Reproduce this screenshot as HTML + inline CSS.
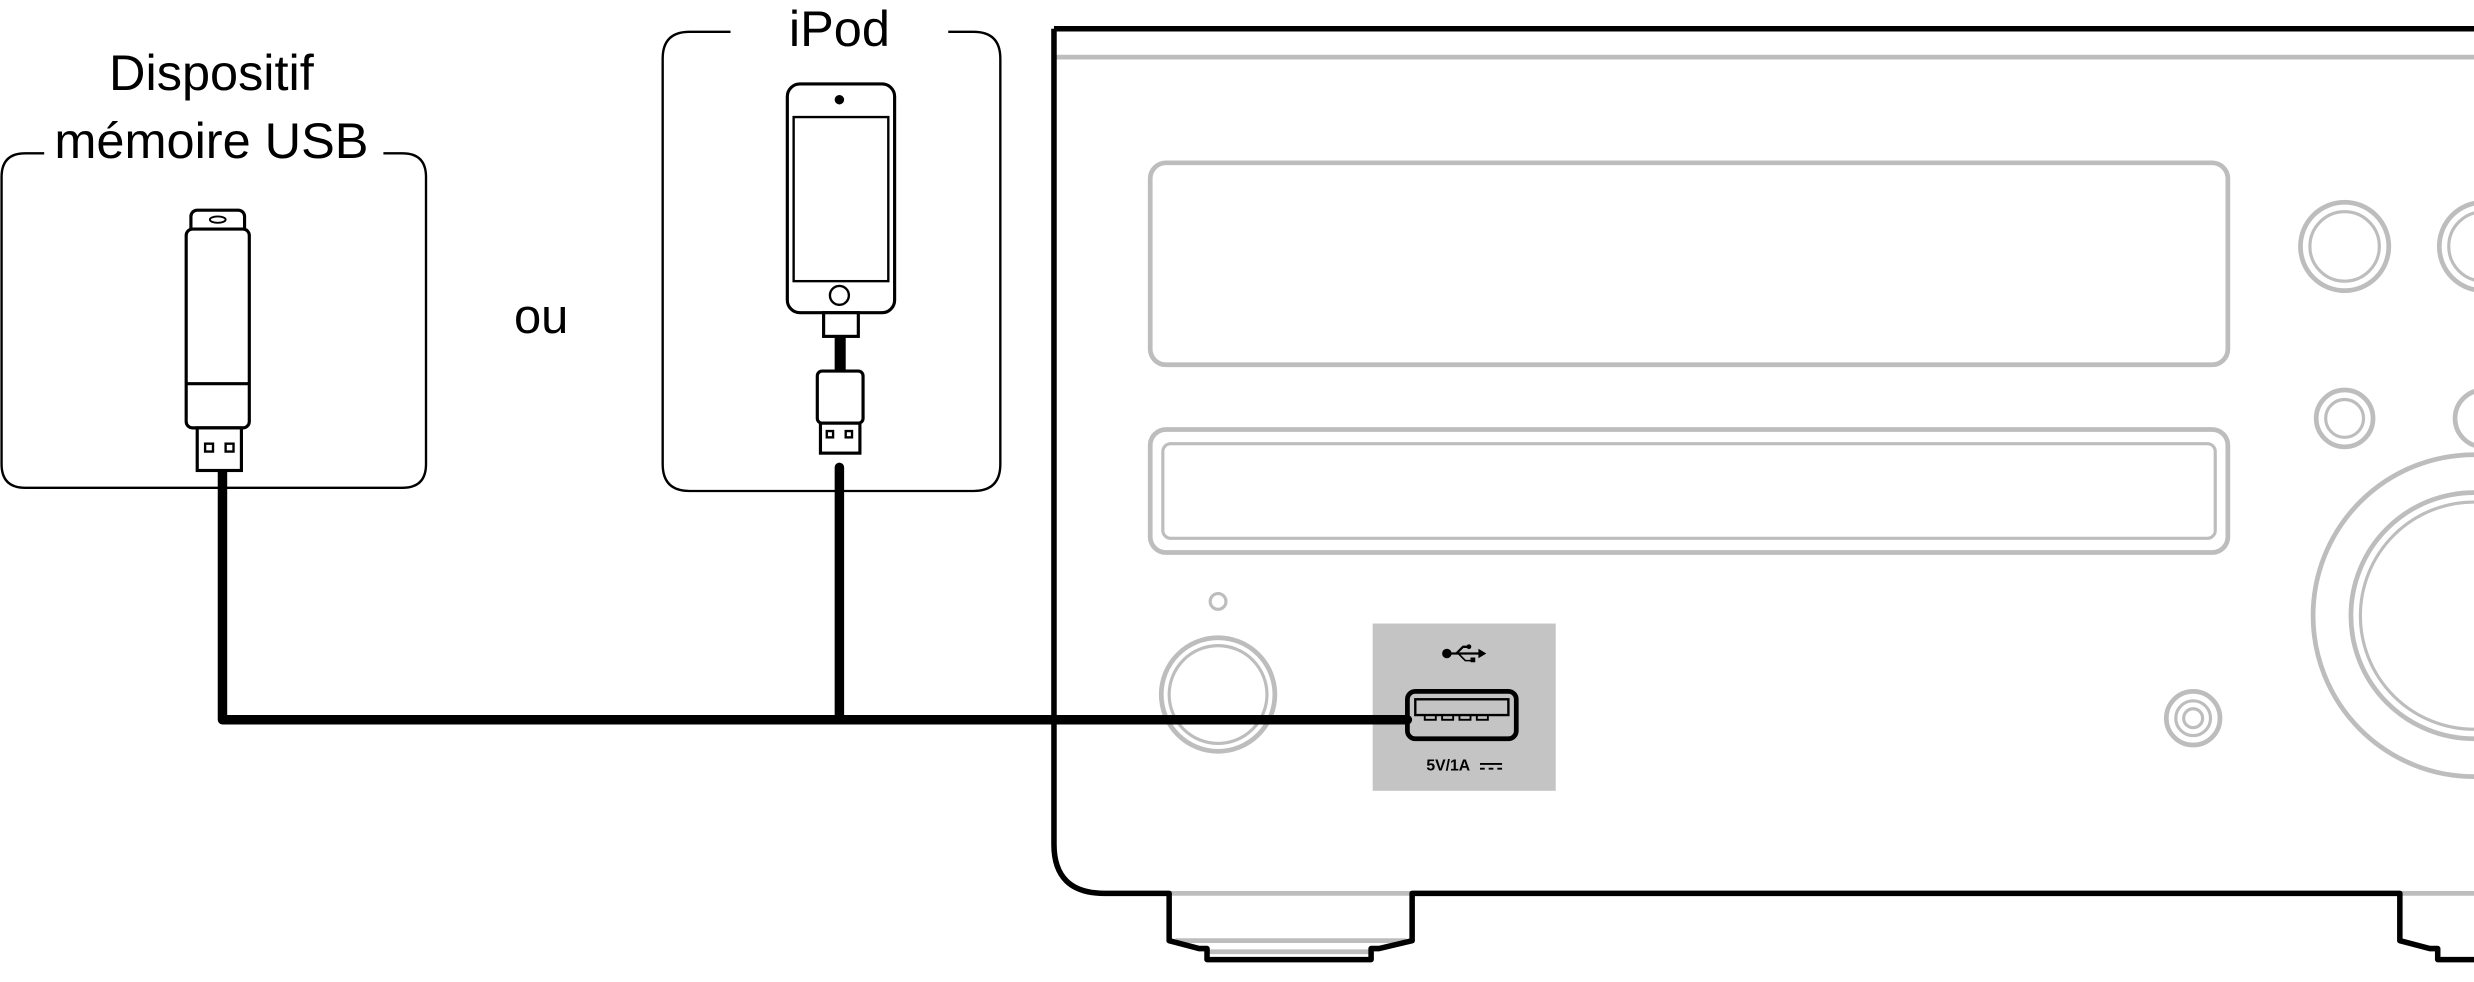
<!DOCTYPE html>
<html><head><meta charset="utf-8"><style>
html,body{margin:0;padding:0;background:#fff;width:2474px;height:982px;overflow:hidden}
svg{display:block}
text{font-family:"Liberation Sans",sans-serif}
</style></head><body>
<svg width="2474" height="982" viewBox="0 0 1568 622" xmlns="http://www.w3.org/2000/svg">
<g fill="none" stroke="#bdbdbd" stroke-width="3">
<line x1="668" y1="36" x2="1568" y2="36"/>
<rect x="729" y="103" width="683" height="128" rx="10"/>
<rect x="729" y="272" width="683" height="78" rx="10"/>
<rect x="737" y="281" width="667" height="60" rx="5" stroke-width="2"/>
<circle cx="772" cy="381" r="5" stroke-width="2"/>
<circle cx="772" cy="440" r="36"/>
<circle cx="772" cy="440" r="31" stroke-width="2"/>
<circle cx="1486" cy="156" r="28"/>
<circle cx="1486" cy="156" r="22" stroke-width="2"/>
<circle cx="1574" cy="156" r="28"/>
<circle cx="1574" cy="156" r="22" stroke-width="2"/>
<circle cx="1486" cy="265" r="18"/>
<circle cx="1486" cy="265" r="12" stroke-width="2"/>
<circle cx="1574" cy="265" r="18"/>
<circle cx="1390" cy="455" r="17"/>
<circle cx="1390" cy="455" r="11" stroke-width="2"/>
<circle cx="1390" cy="455" r="6" stroke-width="2"/>
<circle cx="1568" cy="390" r="102"/>
<circle cx="1568" cy="390" r="78"/>
<circle cx="1568" cy="390" r="72" stroke-width="2"/>
<line x1="741" y1="566" x2="895" y2="566"/>
<line x1="745" y1="596" x2="891" y2="596"/>
<line x1="765" y1="603" x2="870" y2="603"/>
<line x1="1521" y1="566" x2="1568" y2="566"/>
</g>
<path d="M668 18 H1568 M668 18 V535 Q668 566 700 566 H741 V596 L760 601 H765 V608 H869 V601 H874 L895 596 V566 H1521 V596 L1540 601 H1545 V608 H1568" fill="none" stroke="#000" stroke-width="3.5" stroke-linejoin="round"/>
<rect x="870" y="395" width="116" height="106" fill="#c4c4c4"/>
<g fill="#000">
<circle cx="917" cy="414" r="3"/>
<path d="M917 413.3 H940 V414.7 H917Z"/>
<path d="M937 411 L942 414 L937 417Z"/>
<path d="M922 414 L927 409 H931 V410.5 H927.5 L923.5 414.5Z"/>
<circle cx="931" cy="409.7" r="1.5"/>
<path d="M925 414 L929 418 H932 V416.5 H935 V419.5 H932 V419 H928.5 L924 414.5Z"/>
</g>
<rect x="892" y="438" width="69" height="30" rx="5" fill="none" stroke="#000" stroke-width="3"/>
<rect x="897" y="443" width="59" height="10" fill="none" stroke="#000" stroke-width="1.5"/>
<g fill="none" stroke="#000" stroke-width="1.2"><rect x="903" y="453" width="7" height="3"/><rect x="914" y="453" width="7" height="3"/><rect x="925" y="453" width="7" height="3"/><rect x="936" y="453" width="7" height="3"/></g>
<text x="904" y="488" font-size="10" font-weight="bold">5V/1A</text>
<g stroke="#000" stroke-width="1.2"><line x1="938" y1="484" x2="952" y2="484"/><line x1="938" y1="487" x2="941" y2="487"/><line x1="943.5" y1="487" x2="946.5" y2="487"/><line x1="949" y1="487" x2="952" y2="487"/></g>
<path d="M141 283 V456 H892" fill="none" stroke="#000" stroke-width="6" stroke-linecap="round" stroke-linejoin="round"/>
<path d="M532 296 V456" fill="none" stroke="#000" stroke-width="6" stroke-linecap="round"/>
<path d="M28 97 H16 Q1 97 1 112 V294 Q1 309 16 309 H255 Q270 309 270 294 V112 Q270 97 255 97 H243" fill="none" stroke="#000" stroke-width="1.5"/>
<text x="134" y="57" font-size="32" text-anchor="middle">Dispositif</text>
<text x="134" y="100" font-size="32" text-anchor="middle">mémoire USB</text>
<g fill="#fff" stroke="#000" stroke-width="2">
<rect x="121" y="133" width="34" height="18" rx="4"/>
<ellipse cx="138" cy="139" rx="5" ry="2" stroke-width="1.2"/>
<rect x="118" y="145" width="40" height="126" rx="4"/>
<line x1="118" y1="243" x2="158" y2="243"/>
<rect x="125" y="271" width="28" height="27"/>
<rect x="130" y="281" width="5" height="5" stroke-width="1.5"/>
<rect x="143" y="281" width="5" height="5" stroke-width="1.5"/>
</g>
<text x="343" y="211" font-size="31" text-anchor="middle">ou</text>
<path d="M463 20 H437 Q420 20 420 37 V294 Q420 311 437 311 H617 Q634 311 634 294 V37 Q634 20 617 20 H601" fill="none" stroke="#000" stroke-width="1.5"/>
<text x="532" y="29" font-size="32" text-anchor="middle">iPod</text>
<g fill="#fff" stroke="#000" stroke-width="2">
<rect x="499" y="53" width="68" height="145" rx="8"/>
<rect x="503" y="74" width="60" height="104" stroke-width="1.5"/>
<circle cx="532" cy="187" r="6" stroke-width="1.5"/>
<rect x="522" y="198" width="22" height="15"/>
<rect x="518" y="235" width="29" height="33" rx="3"/>
<rect x="520" y="268" width="25" height="19"/>
<rect x="524" y="273" width="4" height="4" stroke-width="1.5"/>
<rect x="536" y="273" width="4" height="4" stroke-width="1.5"/>
</g>
<circle cx="532" cy="63" r="3" fill="#000"/>
<rect x="529" y="213" width="7" height="22" fill="#000"/>
</svg>
</body></html>
